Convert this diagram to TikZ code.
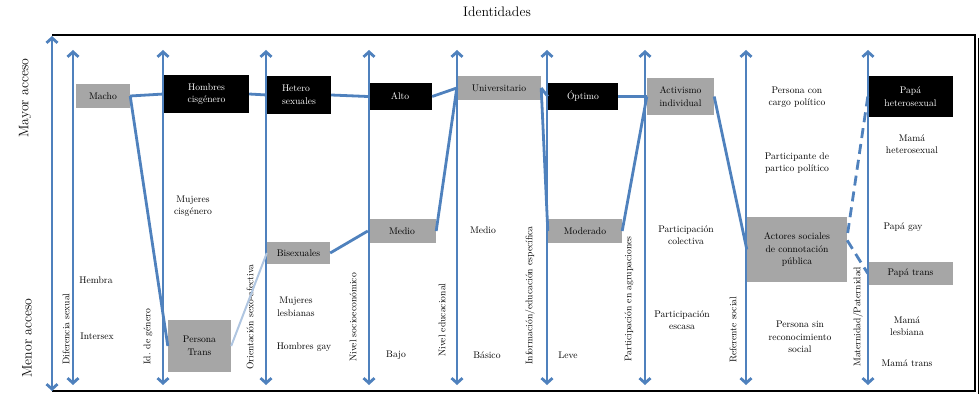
\documentclass[tikz,border=0pt]{standalone}
\usepackage{amsmath}
\usetikzlibrary{arrows.meta,calc}

\definecolor{axblue}{RGB}{79,129,189}
\definecolor{boxgray}{RGB}{166,166,166}
\newcommand{\boxfont}{\fontsize{9.6}{12.5}\selectfont}
\newcommand{\sidefont}{\fontsize{13.8}{15}\selectfont}

\tikzset{
  gbox/.style = {fill=boxgray, inner sep=0pt, align=center, font=\boxfont},
  bbox/.style = {fill=black, text=white, inner sep=0pt, align=center, font=\boxfont},
  lbl/.style = {align=center, inner sep=0pt, font=\boxfont},
  axlbl/.style = {rotate=90, anchor=west, inner sep=0pt, font=\boxfont},
  axis/.style = {draw=axblue, line width=2.8pt,
                 arrows={Straight Barb[length=5pt,width=11pt]-Straight Barb[length=5pt,width=11pt]}},
  link/.style = {draw=axblue, line width=2.8pt}
}

\begin{document}
\begin{tikzpicture}[x=1pt,y=-1pt]
	\def \ytop{50}
	\def \ybot{385}
	\useasboundingbox (0,0) rectangle (980,403);

	% Frame
	\draw[line width=2.5pt] (52,35) -- (975,35) -- (975,391) -- (52,391);
	\draw[line width=1pt] (978.5,38) -- (978.5,394);
	\node[font=\sidefont] (title) at (497,12) {Identidades};
	\node[rotate=90, font=\sidefont] (mayor) at (25,98) {Mayor acceso};
	\node[rotate=90, font=\sidefont] (menor) at (27,338) {Menor acceso};

	% Boxes, upper row
	\node[gbox, minimum width=54pt, minimum height=24pt] (macho) at (103,96) {Macho};
	\node[bbox, minimum width=85pt, minimum height=38pt] (hcis) at (206.5,94) {Hombres\\cisgénero};
	\node[bbox, minimum width=64pt, minimum height=38pt, align=left] (hetero) at (299,95) {Hetero\\sexuales};
	\node[bbox, minimum width=64pt, minimum height=27pt] (alto) at (400,96.5) {Alto};
	\node[gbox, minimum width=84pt, minimum height=24pt] (univ) at (499,88) {Universitario};
	\node[bbox, minimum width=70pt, minimum height=27pt] (optimo) at (583,96.5) {Óptimo};
	\node[gbox, minimum width=67pt, minimum height=37pt] (activ) at (680.5,96.5) {Activismo\\individual};
	\node[bbox, minimum width=85pt, minimum height=41pt] (phet) at (910.5,96.5) {Papá\\heterosexual};

	% Boxes, lower rows
	\node[gbox, minimum width=63pt, minimum height=22pt] (bisex) at (298.5,253) {Bisexuales};
	\node[gbox, minimum width=68pt, minimum height=24pt] (medio) at (402,231) {Medio};
	\node[gbox, minimum width=74pt, minimum height=24pt] (moder) at (585,231) {Moderado};
	\node[gbox, minimum width=100pt, minimum height=65pt] (actores) at (797,249.5) {Actores sociales\\de connotación\\pública};
	\node[gbox, minimum width=85pt, minimum height=23pt] (ptrans) at (910.5,273.5) {Papá trans};
	\node[gbox, minimum width=63pt, minimum height=52pt] (ptr) at (199.5,346) {Persona\\Trans};

	% Plain labels
	\node[lbl] (cargo) at (797,97) {Persona con\\cargo político};
	\node[lbl] (partido) at (797,163) {Participante de\\partico político};
	\node[lbl] (mhet) at (912,144) {Mamá\\heterosexual};
	\node[lbl] (mcis) at (193,206) {Mujeres\\cisgénero};
	\node[lbl] (hembra) at (96,280) {Hembra};
	\node[lbl] (intersex) at (97,336) {Intersex};
	\node[lbl] (lesb) at (296,307) {Mujeres\\lesbianas};
	\node[lbl] (hgay) at (304,347) {Hombres gay};
	\node[lbl] (medtxt) at (483,230) {Medio};
	\node[lbl] (bajo) at (396,355) {Bajo};
	\node[lbl] (basico) at (487,355) {Básico};
	\node[lbl] (leve) at (568,355) {Leve};
	\node[lbl] (pcol) at (686,235) {Participación\\colectiva};
	\node[lbl] (pesc) at (682,320) {Participación\\escasa};
	\node[lbl] (sinrec) at (800,337) {Persona sin\\reconocimiento\\social};
	\node[lbl] (pgay) at (903,227) {Papá gay};
	\node[lbl] (mlesb) at (907,326) {Mamá\\lesbiana};
	\node[lbl] (mtrans) at (907,363) {Mamá trans};

	% Axis labels
	\node[axlbl] (difsex) at (66,365) {Diferencia sexual};
	\node[axlbl] (idgen) at (148,365) {Id. de género};
	\node[axlbl] (orient) at (250,370) {Orientación sexo-afectiva};
	\node[axlbl] (nivsoc) at (353,362) {Nivel socioeconómico};
	\node[axlbl] (niveduc) at (442,357) {Nivel educacional};
	\node[axlbl] (info) at (530,365) {Información/educación específica};
	\node[axlbl] (partic) at (629,362) {Participación en agrupaciones};
	\node[axlbl] (refer) at (733,363) {Referente social};
	\node[axlbl] (matern) at (858,367) {Maternidad/Paternidad};

	% Axes
	\draw[axis] (52,391) -- (52,36);
	\draw[axis] (73,\ybot) -- (73,\ytop);   % diferencia sexual
	\draw[axis] (163,\ybot) -- (163,\ytop); % genero
	\draw[axis] (266,\ybot) -- (266,\ytop); % orientacion
	\draw[axis] (369,\ybot) -- (369,\ytop); % socioeconomico
	\draw[axis] (457,\ybot) -- (457,\ytop); % educacional
	\draw[axis] (547,\ybot) -- (547,\ytop); % informacion
	\draw[axis] (645,\ybot) -- (645,\ytop); % agrupaciones
	\draw[axis] (746,\ybot) -- (746,\ytop); % referente
	\draw[axis] (868,\ybot) -- (868,\ytop); % maternidad

	% Links
	\draw[link] (macho.east) -- (hcis.west);
	\draw[link] (macho.east) -- (ptr.west);
	\draw[link] (hcis.east) -- (hetero.west);
	\draw[link] (hetero.east) -- (alto.west);
	\draw[link] (alto.east) -- (univ.west);
	\draw[link] (medio.east) -- (univ.west);
	\draw[link] (medio.west) -- (bisex.east);
	\draw[link, draw=axblue!45, line width=2pt] (bisex.west) -- (ptr.east);
	\draw[link] (univ.east) -- (optimo.west);
	\draw[link] (univ.east) -- (moder.west);
	\draw[link] (optimo.east) -- (activ.west);
	\draw[link] (moder.east) -- (activ.west);
	\draw[link] (activ.east) -- (actores.west);
	\draw[link, dash pattern=on 10pt off 6pt] (phet.west) -- ($(actores.north east)!0.3!(actores.south east)$);
	\draw[link, dash pattern=on 10pt off 6pt] ($(actores.north east)!0.36!(actores.south east)$) -- (ptrans.west);

\end{tikzpicture}
\end{document}
